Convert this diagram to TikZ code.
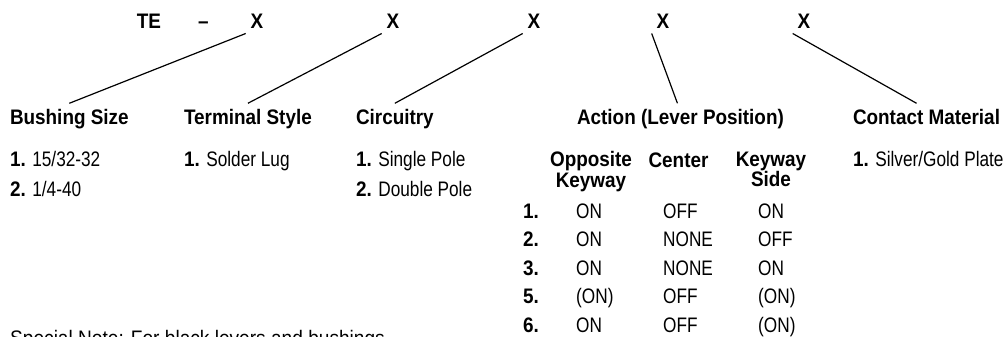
\documentclass[tikz,border=0pt]{standalone}
\usepackage{fontspec}
\setmainfont{Liberation Sans}[FakeStretch=0.82,BoldFeatures={FakeStretch=0.9}]
\newfontfamily\notefont{Liberation Sans}[FakeStretch=0.91]

\begin{document}
\begin{tikzpicture}[x=1pt,y=-1pt,
  every node/.style={inner sep=0pt,font=\fontsize{21}{20.5}\selectfont},
  code/.style={font=\fontsize{21}{20.5}\selectfont\bfseries,anchor=base,inner sep=2pt,outer sep=3pt},
  head/.style={font=\fontsize{21}{20.5}\selectfont\bfseries,anchor=base west,inner sep=3pt,outer sep=3pt},
  item/.style={anchor=base west},
  colhead/.style={font=\fontsize{21}{20.5}\selectfont\bfseries,align=center}]
 \useasboundingbox (0,0) rectangle (1005,337);
 \clip (0,0) rectangle (1005,337);

 % part number
 \node[code] (te) at (149,28.5) {TE};
 \node[code] (dash) at (203.5,28.5) {--};
 \node[code] (x1) at (257,28.5) {X};
 \node[code] (x2) at (393,28.5) {X};
 \node[code] (x3) at (534,28.5) {X};
 \node[code] (x4) at (663,28.5) {X};
 \node[code] (x5) at (804,28.5) {X};

 \node[head] (bushing) at (4,124.5) {Bushing Size};
 \node[head] (terminal) at (178,124.5) {Terminal Style};
 \node[head] (circuit) at (350,124.5) {Circuitry};
 \node[head] (action) at (571,124.5) {Action (Lever Position)};
 \node[head] (contact) at (847,124.5) {Contact Material};

 \draw[line width=1.2pt] (x1.south west) -- (bushing.north);
 \draw[line width=1.2pt] (x2.south west) -- (terminal.north);
 \draw[line width=1.2pt] (x3.south west) -- (circuit.north);
 \draw[line width=1.2pt] (x4.south west) -- ([xshift=-3pt]action.north);
 \draw[line width=1.2pt] (x5.south west) -- ([xshift=-10pt]contact.north);

 \node[item] (bs1) at (10,166.5) {\textbf{1.} 15/32-32};
 \node[item] (bs2) at (10,196.5) {\textbf{2.} 1/4-40};
 \node[item] (ts1) at (184,166.5) {\textbf{1.} Solder Lug};
 \node[item] (ci1) at (356,166.5) {\textbf{1.} Single Pole};
 \node[item] (ci2) at (356,196.5) {\textbf{2.} Double Pole};
 \node[item] (cm1) at (853,166.5) {\textbf{1.} Silver/Gold Plate};

 % lever positions
 \node[colhead,anchor=north] (opp) at (591,151.5) {Opposite\\Keyway};
 \node[colhead,anchor=base] (cen) at (678.5,167) {Center};
 \node[colhead,anchor=north] (key) at (771,151.5) {Keyway\\Side};
 \foreach \n/\a/\b/\c [count=\i] in {1/ON/OFF/ON, 2/ON/NONE/OFF, 3/ON/NONE/ON, 5/{(ON)}/OFF/{(ON)}, 6/ON/OFF/{(ON)}} {
   \node[item,font=\fontsize{21}{20.5}\selectfont\bfseries] (n\i) at (523,{218.5+(\i-1)*28.4}) {\n.};
   \node[item] (a\i) at (576,{218.5+(\i-1)*28.4}) {\a};
   \node[item] (b\i) at (663,{218.5+(\i-1)*28.4}) {\b};
   \node[item] (c\i) at (758,{218.5+(\i-1)*28.4}) {\c};
 }

 \node[item,font=\fontsize{21}{20.5}\notefont] (note) at (10,345) {Special Note: For black levers and bushings};
\end{tikzpicture}
\end{document}
